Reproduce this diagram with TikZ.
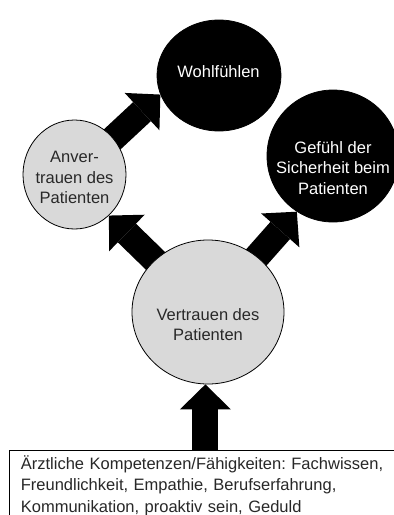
\documentclass[tikz,border=0pt]{standalone}
\usepackage{fontspec}
\setmainfont{Liberation Sans}
\usetikzlibrary{shapes.geometric,arrows.meta,backgrounds}
\definecolor{circgray}{RGB}{217,217,217}
\definecolor{txtdark}{RGB}{40,40,40}
\frenchspacing
\tikzset{
  bubble/.style={ellipse, draw=black, line width=0.8pt, inner sep=0pt},
  lightbubble/.style={bubble, fill=circgray},
  darkbubble/.style={bubble, fill=black},
  bubbletext/.style={inner sep=0pt, align=center, anchor=north, font=\fontsize{16.5}{20.5}\selectfont},
  bigarrow/.style={line width=26pt, draw=black, -{Triangle[width=51pt,length=25pt,line width=0pt]}},
  infobox/.style={draw=black, line width=0.8pt, fill=white, anchor=north west, inner xsep=11.5pt, inner ysep=5pt, text width=369pt, align=left, text=txtdark, font=\fontsize{16.5}{21.6}\selectfont},
}
\begin{document}
\begin{tikzpicture}[x=1pt,y=-1pt]
\useasboundingbox (0,0) rectangle (394,515);
\node[darkbubble, minimum width=124pt, minimum height=111pt] (W) at (219,75.5) {};
\node[bubbletext, text=white] (Wt) at (218.5,65) {Wohlfühlen};
\node[lightbubble, minimum width=103pt, minimum height=109pt] (A) at (74.5,174.5) {};
\node[bubbletext, text=txtdark] (At) at (74.5,151) {Anver-\\trauen des\\Patienten};
\node[darkbubble, minimum width=132pt, minimum height=132pt] (G) at (333,156) {};
\node[bubbletext, text=white] (Gt) at (333,141) {Gefühl der\\Sicherheit beim\\Patienten};
\node[lightbubble, minimum width=152pt, minimum height=144pt] (V) at (208,312) {};
\node[bubbletext, text=txtdark] (Vt) at (208,308) {Vertrauen des\\Patienten};
\node[infobox] (B) at (9,450) {Ärztliche Kompetenzen/Fähigkeiten: Fachwissen,\\Freundlichkeit, Empathie, Berufserfahrung,\\Kommunikation, proaktiv sein, Geduld};
\begin{scope}[on background layer]
\draw[bigarrow] (A.center) -- (W.198);
\draw[bigarrow] (V.center) -- (A.310);
\draw[bigarrow] (V.center) -- (G.237);
\draw[bigarrow] (B.north) -- (B.north |- V.south);
\end{scope}
\end{tikzpicture}
\end{document}
